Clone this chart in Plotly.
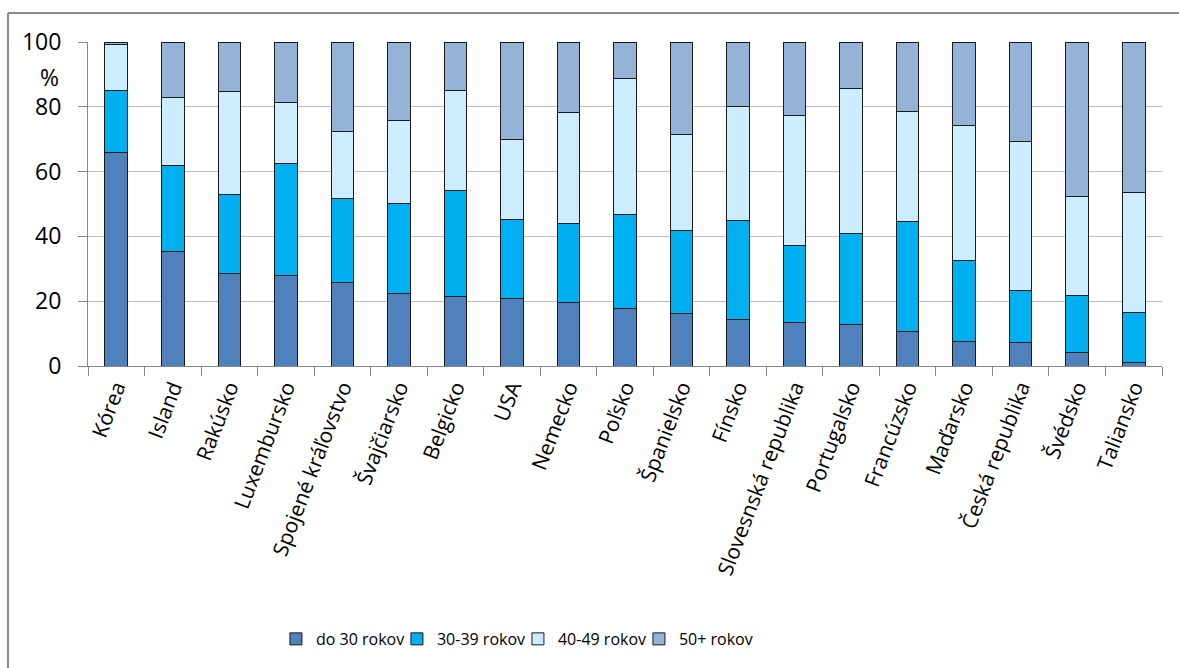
import plotly.graph_objects as go

categories = ["Kórea", "Island", "Rakúsko", "Luxembursko", "Spojené kráľovstvo",
              "Švajčiarsko", "Belgicko", "USA", "Nemecko", "Poľsko", "Španielsko",
              "Fínsko", "Slovesnská republika", "Portugalsko", "Francúzsko",
              "Maďarsko", "Česká republika", "Švédsko", "Taliansko"]

do30 = [65.9, 35.3, 28.4, 28.0, 25.7, 22.3, 21.4, 20.7, 19.6, 17.6, 16.1,
        14.5, 13.4, 12.7, 10.7, 7.7, 7.3, 4.2, 1.2]
r30_39 = [19.1, 26.5, 24.5, 34.5, 25.9, 27.9, 32.9, 24.6, 24.5, 29.2, 25.7,
          30.3, 23.7, 28.2, 33.8, 25.0, 16.1, 17.7, 15.3]
r40_49 = [14.2, 21.0, 31.8, 18.7, 20.9, 25.7, 30.8, 24.5, 34.0, 41.8, 29.5,
          35.3, 40.3, 44.9, 34.1, 41.6, 46.0, 30.3, 37.1]
r50 = [0.8, 17.2, 15.3, 18.8, 27.5, 24.1, 14.9, 30.2, 21.9, 11.4, 28.7,
       19.9, 22.6, 14.2, 21.4, 25.7, 30.6, 47.8, 46.4]

series_names = ["do 30 rokov", "30-39 rokov", "40-49 rokov", "50+ rokov"]
series_values = [do30, r30_39, r40_49, r50]
colors = ["#4F81BD", "#00B0F0", "#CCECFF", "#95B3D7"]

y_ticks = [0, 20, 40, 60, 80, 100]

FONT = "Open Sans"

fig = go.Figure()
for name, vals, col in zip(series_names, series_values, colors):
    fig.add_trace(go.Bar(
        x=categories, y=vals, name=name,
        marker=dict(color=col, line=dict(color="#1a1a1a", width=1)),
    ))

fig.update_layout(
    barmode="stack",
    bargap=0.6,
    width=1179, height=668,
    margin=dict(l=88, r=17, t=42, b=302),
    paper_bgcolor="white",
    plot_bgcolor="white",
    font=dict(family=FONT, color="#000000"),
    showlegend=True,
    legend=dict(
        orientation="h",
        x=0.175, xanchor="left",
        y=-0.79, yanchor="top",
        font=dict(size=16, family=FONT),
        entrywidth=76,
        entrywidthmode="pixels",
        itemwidth=30,
        traceorder="normal",
    ),
    xaxis=dict(
        showline=True, linecolor="#868686", linewidth=1,
        ticks="outside", tickson="boundaries", ticklen=9, tickcolor="#868686",
        tickangle=-69,
        tickfont=dict(size=21, family=FONT),
        showgrid=False,
    ),
    yaxis=dict(
        range=[0, 100],
        tickvals=y_ticks,
        showline=True, linecolor="#868686", linewidth=1,
        ticks="outside", ticklen=9, tickcolor="#868686",
        showgrid=True, gridcolor="#BEBEBE", gridwidth=1,
        tickfont=dict(size=23, family=FONT),
        ticklabelstandoff=12,
        zeroline=False,
    ),
    annotations=[dict(
        text="%", x=-0.036, xref="paper", y=89.3, yref="y",
        showarrow=False, xanchor="center", yanchor="middle",
        font=dict(size=23, family=FONT, color="#000000"),
    )],
    shapes=[
        dict(type="line", xref="paper", yref="paper",
             x0=-0.0745, x1=1.02, y0=1.0895, y1=1.0895,
             line=dict(color="#8A8A8A", width=2)),
        dict(type="line", xref="paper", yref="paper",
             x0=-0.0745, x1=-0.0745, y0=1.0895, y1=-0.94,
             line=dict(color="#8A8A8A", width=2)),
    ],
)

fig.write_html("out.html")
